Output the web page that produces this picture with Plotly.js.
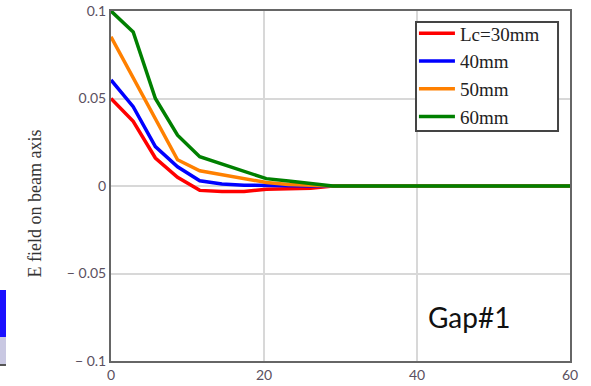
<!DOCTYPE html>
<html>
<head>
<meta charset="utf-8">
<script src="https://cdn.plot.ly/plotly-3.0.1.min.js"></script>
<style>html,body{margin:0;padding:0;background:#fff;}#chart{width:591px;height:386px;}</style>
</head>
<body>
<div id="chart"></div>
<script>
// Data
const xPos = [0, 2.9, 5.8, 8.7, 11.6, 14.5, 17.4, 20.3, 23.2, 26.1, 29, 60];
const lc30 = [0.050, 0.037, 0.016, 0.005, -0.0025, -0.0032, -0.0032, -0.0018, -0.0015, -0.0013, 0, 0];
const lc40 = [0.0606, 0.0453, 0.0225, 0.011, 0.003, 0.0012, 0.0005, 0.0002, 0.0001, 0, 0, 0];
const lc50 = [0.0853, 0.062, 0.039, 0.015, 0.0087, 0.0065, 0.0042, 0.002, 0.0009, 0.0004, 0, 0];
const lc60 = [0.100, 0.088, 0.050, 0.029, 0.0167, 0.0126, 0.0083, 0.0042, 0.0028, 0.0015, 0, 0];
const seriesNames = ["Lc=30mm", "40mm", "50mm", "60mm"];
const seriesColors = ["#ff0000", "#0000ff", "#ff8000", "#008000"];
const yTickVals = [-0.1, -0.05, 0, 0.05, 0.1];
const yTickText = ["\u2212 0.1", "\u2212 0.05", "0", "0.05", "0.1"];
const xTickVals = [0, 20, 40, 60];
const yTitle = "E field on beam axis";
const noteText = "Gap#1";

const ys = [lc30, lc40, lc50, lc60];
const traces = ys.map((y, i) => ({
  x: xPos, y: y, type: 'scatter', mode: 'lines', name: seriesNames[i],
  line: {color: seriesColors[i], width: 3.5}
}));

const layout = {
  width: 591, height: 386,
  margin: {l: 111, r: 21, t: 11, b: 25},
  paper_bgcolor: '#fff', plot_bgcolor: '#fff',
  showlegend: true,
  legend: {
    x: 0.660, y: 0.99, xanchor: 'left', yanchor: 'top',
    bgcolor: 'rgba(0,0,0,0)', borderwidth: 0,
    font: {family: 'Liberation Serif, serif', size: 19, color: '#222'},
    itemwidth: 36, tracegroupgap: 0
  },
  xaxis: {
    range: [0, 60], tickvals: xTickVals, ticks: '',
    showgrid: true, gridcolor: '#d8d8d8', gridwidth: 2,
    showline: true, linecolor: '#666', linewidth: 2, mirror: true,
    zeroline: false,
    tickfont: {family: 'Lato, sans-serif', size: 14, color: '#5a5060'}
  },
  yaxis: {
    range: [-0.1, 0.1], tickvals: yTickVals, ticktext: yTickText, ticks: '',
    showgrid: true, gridcolor: '#d8d8d8', gridwidth: 2,
    showline: true, linecolor: '#666', linewidth: 2, mirror: true,
    zeroline: false,
    tickfont: {family: 'Lato, sans-serif', size: 14, color: '#5a5060'}
  },
  annotations: [
    {xref: 'paper', yref: 'paper', x: 0.78, y: 0.125, xanchor: 'center', yanchor: 'middle',
     text: noteText, showarrow: false,
     font: {family: 'Lato, sans-serif', size: 28, color: '#111'}},
    {xref: 'paper', yref: 'paper', x: -0.1656, y: 0.45, xanchor: 'center', yanchor: 'middle',
     text: yTitle, showarrow: false, textangle: -90,
     font: {family: 'Liberation Serif, serif', size: 18, color: '#333'}}
  ],
  shapes: [
    {type: 'rect', xref: 'paper', yref: 'paper', x0: 0.6645, x1: 0.9739, y0: 0.657, y1: 0.9686,
     fillcolor: '#fff', line: {color: '#444', width: 2}, layer: 'above'},
    {type: 'rect', xref: 'paper', yref: 'paper', x0: -0.2418, x1: -0.2288, y0: 0.0686, y1: 0.2029,
     fillcolor: '#1a10ff', line: {width: 0}},
    {type: 'rect', xref: 'paper', yref: 'paper', x0: -0.2418, x1: -0.2288, y0: -0.0114, y1: 0.0686,
     fillcolor: '#c9c8e2', line: {width: 0}},
    {type: 'line', xref: 'paper', yref: 'paper', x0: -0.2418, x1: -0.2288, y0: -0.0114, y1: -0.0114,
     line: {color: '#555', width: 2}}
  ]
};

Plotly.newPlot('chart', traces, layout, {displayModeBar: false, staticPlot: true});
</script>
</body>
</html>
